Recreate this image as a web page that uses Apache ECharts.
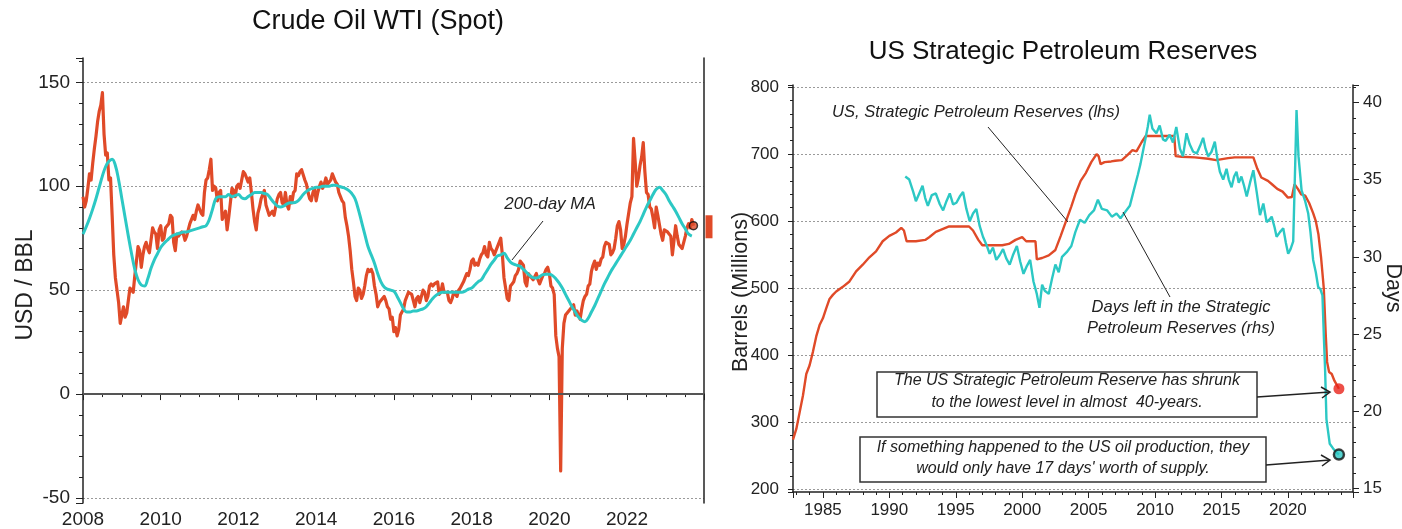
<!DOCTYPE html>
<html><head><meta charset="utf-8">
<script src="https://cdn.jsdelivr.net/npm/echarts@6/dist/echarts.min.js"></script>
<style>html,body{margin:0;padding:0;background:#fff}#c{width:1402px;height:529px}</style>
</head><body><div id="c"></div><script>
// ---------- Left chart: WTI spot (semi-monthly readings) ----------
const wtiStart = 2008;
const wtiValues = [
 95,90, 93,99, 106,103, 111,118, 124,131, 136,139, 145,125, 115,116, 103,104, 86,67, 56,50, 44,34,
 38,42, 37,39, 45,51, 50,49, 57,64, 71,69, 61,67, 71,73, 70,68, 74,80, 78,77, 70,79,
 81,74, 75,80, 81,82, 86,85, 73,69, 77,76, 76,78, 77,74, 76,79, 82,82, 86,84, 88,91,
 91,87, 86,97, 103,104, 108,113, 98,100, 99,93, 97,98, 84,86, 88,79, 85,92, 99,98, 95,100,
 101,99, 99,107, 106,104, 102,104, 97,89, 83,79, 87,90, 94,96, 98,91, 91,86, 86,88, 86,90,
 94,96, 97,92, 91,97, 91,89, 95,92, 97,98, 106,105, 107,108, 108,103, 101,97, 94,93, 97,99,
 93,97, 100,102, 99,101, 104,101, 101,103, 106,106, 102,101, 97,95, 93,92, 85,81, 76,69, 60,54,
 47,45, 51,50, 46,48, 52,57, 60,59, 60,58, 52,48, 42,44, 45,45, 47,45, 42,41, 36,37,
 30,32, 28,31, 38,38, 41,45, 47,49, 49,48, 45,42, 46,47, 44,47, 50,49, 45,47, 52,53,
 52,53, 53,54, 48,49, 53,49, 49,49, 45,44, 46,49, 48,47, 50,51, 51,54, 56,58, 57,60,
 64,65, 62,63, 62,65, 67,68, 71,67, 66,73, 70,69, 67,69, 69,73, 75,67, 56,51, 46,45,
 52,53, 54,57, 58,60, 64,64, 62,54, 52,58, 58,56, 55,55, 58,55, 53,55, 57,58, 60,61,
 58,52, 51,48, 28,22, 18,-37, 22,34, 38,39, 40,41, 42,43, 38,40, 40,36, 41,45, 47,48,
 52,53, 59,62, 64,60, 63,62, 65,66, 71,73, 73,72, 67,68, 70,75, 81,83, 79,70, 72,76,
 82,87, 92,95, 123,112, 100,104, 110,114, 121,107, 97,96, 90,89, 85,80, 90,86, 86,77, 74,79,
 79,78, 78,76, 67,74, 81,76, 72,72, 70,70, 76,80, 82,80, 84,81
];
const maStart = 2008;
const maValues = [
 77,80.5,84.5,89,94,99.5,105,109.5,112,113,110,103,
 94,85,76,67.5,60,55,52.5,52,55.5,60.5,64.5,67.5,
 70.5,72.5,74,75.5,76.5,77,77.5,78,78,78.5,79,79.5,
 80,80.5,81,84,89,94,95,95,95,96,95,95.5,
 96,94.5,94,95,96,97,97,97,96.5,96,94,92,
 90.5,90,90.5,91.5,92,92,92.5,94,96,97.5,98.5,99,
 99.5,99.5,100,100,100,100.5,100.5,100,99.5,99,98,96.5,
 94,89,83,77,71,67,63,58,54,51.5,50.5,50,
 49.5,47,44,41,39.5,39.5,40,40,40.5,41,42,44,
 46,47.5,48.5,49,49,49,49,49,49,49,49.5,50.5,
 51,52.5,54,55,57.5,60,62.5,64.5,66.5,67,67.8,65.5,
 63.5,62.5,62,61.5,60,58.5,57,56,55.8,56.5,57.5,57.7,
 57.7,57,55.5,53.5,51,48,45,42,39.5,37,35.5,34.8,
 36.5,39.5,42.5,46,49.5,53,56,59,61.5,64,66.5,69,
 71.5,74,77,80,83,86.5,90,93,96,98.5,99.5,98,
 96,93,90.5,88,85,82,79.5,77,76
];
const wtiTicks = ['2008','2010','2012','2014','2016','2018','2020','2022'];
const lastTag = 80.5;

// ---------- Right chart: US SPR ----------
const sprYears = [1982.75,1983.0,1983.25,1983.5,1983.75,1984.0,1984.25,1984.5,1984.75,1985.0,1985.25,1985.5,1985.75,1986.0,1986.5,1987.0,1987.5,1988.0,1988.5,1989.0,1989.5,1990.0,1990.5,1990.9,1991.1,1991.3,1992.0,1992.7,1993.0,1993.5,1994.0,1994.5,1995.0,1995.5,1996.0,1996.3,1996.7,1997.0,1997.5,1998.0,1998.5,1999.0,1999.5,2000.0,2000.3,2000.8,2001.0,2001.1,2001.5,2002.0,2002.5,2002.9,2003.3,2003.7,2004.0,2004.4,2004.8,2005.2,2005.6,2005.75,2005.9,2006.2,2006.7,2007.0,2007.5,2007.9,2008.3,2008.6,2009.0,2009.3,2010.0,2011.0,2011.45,2011.55,2012.0,2013.0,2014.0,2014.6,2015.5,2016.0,2017.0,2017.4,2017.7,2018.0,2018.5,2018.8,2019.2,2019.6,2020.0,2020.3,2020.5,2020.75,2021.0,2021.3,2021.6,2021.9,2022.1,2022.3,2022.5,2022.7,2022.85,2022.95,2023.1,2023.3,2023.5,2023.84];
const sprValues = [274,290,315,340,372,385,405,428,445,455,470,484,490,495,502,510,525,535,546,555,570,578,583,590,586,570,570,572,576,584,588,592,592,592,592,586,572,564,564,564,564,566,572,576,570,570,570,543,545,549,557,578,600,622,640,660,672,688,700,697,685,688,689,690,691,698,706,704,718,727,727,727,727,697,696,695,693,691,694,695,695,695,678,665,660,655,648,644,635,636,655,648,640,638,627,612,600,580,545,500,430,390,375,372,362,350];
const daysYears = [1991.2,1991.5,1991.8,1992.0,1992.3,1992.5,1992.7,1992.9,1993.2,1993.5,1993.8,1994.05,1994.3,1994.55,1994.8,1995.05,1995.3,1995.55,1995.8,1996.05,1996.3,1996.55,1996.8,1997.05,1997.3,1997.55,1997.8,1998.05,1998.3,1998.56,1998.8,1999.06,1999.3,1999.6,1999.85,2000.1,2000.35,2000.6,2000.85,2001.1,2001.3,2001.5,2001.7,2002.0,2002.25,2002.5,2002.75,2003.0,2003.35,2003.7,2004.0,2004.35,2004.7,2005.05,2005.4,2005.7,2006.0,2006.4,2006.75,2007.1,2007.4,2007.75,2008.1,2008.4,2008.7,2008.9,2009.2,2009.45,2009.6,2009.8,2010.1,2010.35,2010.6,2010.8,2011.1,2011.35,2011.6,2011.87,2012.1,2012.37,2012.6,2012.87,2013.15,2013.4,2013.62,2013.8,2014.0,2014.25,2014.5,2014.7,2014.88,2015.13,2015.38,2015.55,2015.76,2015.95,2016.13,2016.3,2016.5,2016.7,2016.9,2017.15,2017.4,2017.65,2017.9,2018.15,2018.4,2018.6,2018.78,2019.0,2019.15,2019.4,2019.65,2019.85,2020.02,2020.2,2020.4,2020.55,2020.65,2020.8,2021.03,2021.3,2021.53,2021.7,2021.9,2022.1,2022.28,2022.45,2022.6,2022.7,2022.8,2022.9,2023.15,2023.4,2023.6,2023.84];
const daysValues = [35.2,35.0,34.2,33.6,34.2,34.6,33.8,33.3,34.0,34.1,33.4,33.0,33.6,34.1,33.4,33.5,33.9,34.2,33.1,32.3,32.8,33.1,32.0,31.3,30.8,30.2,30.6,29.8,30.1,30.5,29.9,29.5,30.1,30.7,29.7,28.9,29.4,29.8,28.4,27.6,26.7,28.2,27.8,27.6,28.6,29.5,29.0,30.0,30.3,30.7,31.6,32.4,32.2,32.7,33.0,33.7,33.1,33.0,32.6,32.8,32.5,32.9,33.3,34.3,35.3,36.0,37.3,38.4,39.2,38.3,38.0,38.5,37.6,37.5,37.9,37.4,38.4,37.0,36.5,38.0,37.3,36.8,36.7,37.2,37.7,37.0,36.5,36.8,37.45,36.3,35.5,35.0,35.7,35.0,34.5,35.2,35.5,34.8,35.2,34.6,33.9,34.8,35.6,34.2,32.7,33.45,32.25,32.4,32.6,31.9,31.3,31.6,31.85,30.9,30.2,30.5,31.0,36.0,39.5,36.5,34.3,33.6,32.8,31.6,29.8,29.0,28.05,27.9,27.5,25.0,22.7,19.5,17.9,17.6,17.4,17.2];
const sprTicks = ['1985','1990','1995','2000','2005','2010','2015','2020'];

const RED = '#E04A28', TEAL = '#2CC8C4', AX = '#222';
const FONT = '"Liberation Sans", Arial, Helvetica, sans-serif';

const wtiData = wtiValues.map((v, i) => [wtiStart + i / 24, v]);
const maData = maValues.map((v, i) => [maStart + i / 12, v]);
const sprData = sprYears.map((y, i) => [y, sprValues[i]]);
const daysData = daysYears.map((y, i) => [y, daysValues[i]]);

const grid = (o) => Object.assign({outerBoundsMode: 'none', containLabel: false}, o);
const gridLine = {show: true, showMinLine: false, showMaxLine: false, lineStyle: {color: '#9a9a9a', type: [2, 2], width: 1}};
const axLine = {show: true, lineStyle: {color: AX, width: 1.5}};
const txt = (x, y, text, font, extra) => Object.assign({type: 'text', x, y, z: 50,
  style: {text, font: font + ' ' + FONT, fill: '#222', textAlign: 'center', textVerticalAlign: 'middle'}}, extra || {});

const chart = echarts.init(document.getElementById('c'), null, {renderer: 'canvas'});
chart.setOption({
  animation: false,
  backgroundColor: '#fff',
  textStyle: {fontFamily: FONT},
  grid: [
    grid({left: 83, top: 58, width: 621, height: 445}),
    grid({left: 793, top: 85, width: 560, height: 407})
  ],
  xAxis: [
    {type: 'value', gridIndex: 0, min: 2008, max: 2023.98, splitNumber: 8, minInterval: 2, maxInterval: 2,
     axisLine: axLine, axisTick: {show: true, length: 6, lineStyle: {color: AX}},
     minorTick: {show: true, splitNumber: 4, length: 3, lineStyle: {color: AX}},
     splitLine: {show: false},
     axisLabel: {fontSize: 19, color: '#222', margin: 7, showMaxLabel: false, fontFamily: FONT,
       formatter: v => { const s = String(Math.round(v)); return wtiTicks.includes(s) ? s : ''; }}},
    {type: 'value', gridIndex: 1, min: 1982.75, max: 2024.9, splitNumber: 8, minInterval: 5, maxInterval: 5,
     axisLine: axLine, axisTick: {show: true, length: 6, lineStyle: {color: AX}},
     minorTick: {show: true, splitNumber: 5, length: 3, lineStyle: {color: AX}},
     splitLine: {show: false},
     axisLabel: {fontSize: 17, color: '#222', margin: 10, showMinLabel: false, showMaxLabel: false, fontFamily: FONT,
       formatter: v => { const s = String(Math.round(v)); return sprTicks.includes(s) ? s : ''; }}}
  ],
  yAxis: [
    {type: 'value', gridIndex: 0, min: -52.4, max: 161.7, splitNumber: 5, minInterval: 50, maxInterval: 50,
     axisLine: axLine, axisTick: {show: true, length: 7, lineStyle: {color: AX}},
     minorTick: {show: true, splitNumber: 5, length: 4, lineStyle: {color: AX}},
     splitLine: gridLine,
     axisLabel: {fontSize: 19, color: '#222', margin: 13, showMinLabel: false, showMaxLabel: false, fontFamily: FONT}},
    {type: 'value', gridIndex: 0, position: 'right', min: -52.4, max: 161.7,
     axisLine: axLine, axisTick: {show: false}, axisLabel: {show: false}, splitLine: {show: false}},
    {type: 'value', gridIndex: 1, position: 'left', min: 196, max: 803, splitNumber: 6, minInterval: 100, maxInterval: 100,
     axisLine: axLine, axisTick: {show: true, length: 5, lineStyle: {color: AX}},
     minorTick: {show: true, splitNumber: 5, length: 3, lineStyle: {color: AX}},
     splitLine: gridLine,
     axisLabel: {fontSize: 17, color: '#222', margin: 14, showMinLabel: false, showMaxLabel: false, fontFamily: FONT}},
    {type: 'value', gridIndex: 1, position: 'right', min: 14.78, max: 41.12, splitNumber: 5, minInterval: 5, maxInterval: 5,
     axisLine: axLine, axisTick: {show: true, length: 6, lineStyle: {color: AX}},
     minorTick: {show: true, splitNumber: 5, length: 3, lineStyle: {color: AX}},
     splitLine: {show: false},
     axisLabel: {fontSize: 17, color: '#222', margin: 10, showMinLabel: false, showMaxLabel: false, fontFamily: FONT}}
  ],
  series: [
    {type: 'line', xAxisIndex: 0, yAxisIndex: 0, data: wtiData, showSymbol: false, symbol: 'none',
     lineStyle: {color: RED, width: 3.2, join: 'round'}, z: 3, clip: true,
     markLine: {silent: true, symbol: 'none', label: {show: false},
       lineStyle: {color: '#555', type: 'solid', width: 2}, data: [{yAxis: 0}]},
     markPoint: {silent: true, symbol: 'rect', symbolSize: [7, 23], symbolOffset: [5, 0],
       itemStyle: {color: RED}, label: {show: false},
       data: [{coord: [2023.98, lastTag]}]}},
    {type: 'line', xAxisIndex: 0, yAxisIndex: 0, data: maData, showSymbol: false, symbol: 'none', smooth: 0.4,
     lineStyle: {color: TEAL, width: 3}, z: 4},
    {type: 'scatter', xAxisIndex: 0, yAxisIndex: 0, data: [wtiData[wtiData.length - 1]], symbolSize: 8,
     itemStyle: {color: RED, borderColor: '#111', borderWidth: 1.5}, z: 6},
    {type: 'line', xAxisIndex: 1, yAxisIndex: 2, data: sprData, showSymbol: false, symbol: 'none',
     lineStyle: {color: RED, width: 2.4}, z: 3},
    {type: 'line', xAxisIndex: 1, yAxisIndex: 3, data: daysData, showSymbol: false, symbol: 'none',
     lineStyle: {color: TEAL, width: 2.4}, z: 4},
    {type: 'scatter', xAxisIndex: 1, yAxisIndex: 2, data: [sprData[sprData.length - 1]], symbolSize: 11,
     itemStyle: {color: '#E8231A'}, z: 6},
    {type: 'scatter', xAxisIndex: 1, yAxisIndex: 3, data: [daysData[daysData.length - 1]], symbolSize: 10,
     itemStyle: {color: TEAL, borderColor: '#111', borderWidth: 2.5}, z: 6}
  ],
  graphic: [
    txt(378, 22, 'Crude Oil WTI (Spot)', '27px', {style: {text: 'Crude Oil WTI (Spot)', font: '27px ' + FONT, fill: '#111', textAlign: 'center', textVerticalAlign: 'middle'}}),
    txt(1063, 52, 'US Strategic Petroleum Reserves', '26px', {style: {text: 'US Strategic Petroleum Reserves', font: '26px ' + FONT, fill: '#111', textAlign: 'center', textVerticalAlign: 'middle'}}),
    txt(26, 285, 'USD / BBL', '23px', {rotation: Math.PI / 2}),
    txt(741, 292, 'Barrels (Millions)', '21.5px', {rotation: Math.PI / 2}),
    txt(1393, 288, 'Days', '21.5px', {rotation: -Math.PI / 2}),
    txt(550, 204, '200-day MA', 'italic 17px'),
    {type: 'line', z: 50, shape: {x1: 543, y1: 221, x2: 512, y2: 260}, style: {stroke: '#222', lineWidth: 1}},
    txt(976, 112, 'US, Strategic Petroleum Reserves (lhs)', 'italic 16.5px'),
    {type: 'line', z: 50, shape: {x1: 988, y1: 127, x2: 1068, y2: 222}, style: {stroke: '#222', lineWidth: 1}},
    txt(1181, 307, 'Days left in the Strategic', 'italic 16.5px'),
    txt(1181, 328, 'Petroleum Reserves (rhs)', 'italic 16.5px'),
    {type: 'line', z: 50, shape: {x1: 1170, y1: 297, x2: 1123, y2: 212}, style: {stroke: '#222', lineWidth: 1}},
    {type: 'rect', z: 40, shape: {x: 877, y: 372, width: 380, height: 45}, style: {fill: '#fff', stroke: '#333', lineWidth: 1.5}},
    txt(1067, 381, 'The US Strategic Petroleum Reserve has shrunk', 'italic 16px'),
    txt(1067, 403, 'to the lowest level in almost  40-years.', 'italic 16px'),
    {type: 'rect', z: 40, shape: {x: 860, y: 437, width: 406, height: 45}, style: {fill: '#fff', stroke: '#333', lineWidth: 1.5}},
    txt(1063, 448, 'If something happened to the US oil production, they', 'italic 16px'),
    txt(1063, 469, "would only have 17 days' worth of supply.", 'italic 16px'),
    {type: 'line', z: 50, shape: {x1: 1257, y1: 397, x2: 1330, y2: 392}, style: {stroke: '#222', lineWidth: 1.5}},
    {type: 'polyline', z: 50, shape: {points: [[1321, 387], [1330, 392], [1322, 398]]}, style: {stroke: '#222', lineWidth: 1.5, fill: null}},
    {type: 'line', z: 50, shape: {x1: 1266, y1: 465, x2: 1330, y2: 460}, style: {stroke: '#222', lineWidth: 1.5}},
    {type: 'polyline', z: 50, shape: {points: [[1321, 455], [1330, 460], [1322, 466]]}, style: {stroke: '#222', lineWidth: 1.5, fill: null}}
  ]
});
</script></body></html>
